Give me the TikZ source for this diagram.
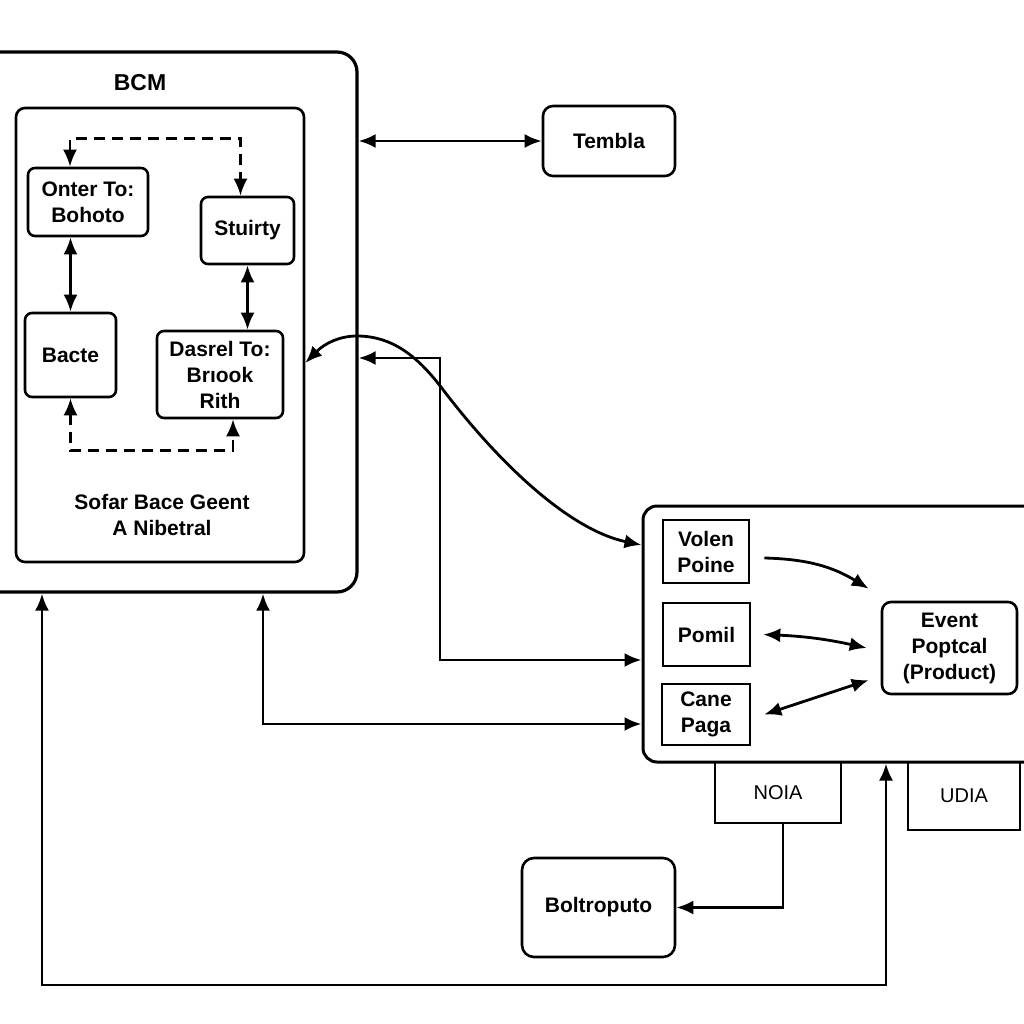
\documentclass[tikz,border=0pt]{standalone}
\usepackage{fontspec}
\setmainfont{Liberation Sans}
\usetikzlibrary{arrows.meta}

\tikzset{
  box/.style={draw, line width=2.6pt, rounded corners=7pt, inner sep=0pt, align=center, font=\bfseries\fontsize{21}{26}\selectfont},
  sqbox/.style={box, rounded corners=0pt},
  plainbox/.style={sqbox, line width=2.3pt, font=\fontsize{20}{24}\selectfont},
  frame/.style={draw, line width=3.2pt, rounded corners=20pt, inner sep=0pt},
  arr/.style={line width=2.8pt, -{Latex[length=17pt,width=14pt]}},
  darr/.style={line width=2.8pt, {Latex[length=17pt,width=14pt]}-{Latex[length=17pt,width=14pt]}},
  dashline/.style={line width=2.5pt, dash pattern=on 11pt off 7pt}
}

\begin{document}
\begin{tikzpicture}[x=1pt, y=-1pt]
  \useasboundingbox (0,0) rectangle (1024,1024);
  \clip (0,0) rectangle (1024,1024);

  %%%%% BCM %%%%%
  \node[frame, minimum width=377pt, minimum height=540pt] (bcm) at (168.5,322) {};
  \node[frame, line width=2.6pt, rounded corners=9pt, minimum width=288pt, minimum height=454pt] (inner) at (160,335) {};
  \node[font=\bfseries\fontsize{23}{26}\selectfont] (bcmlabel) at (140,83) {BCM};

  \node[box, minimum width=120pt, minimum height=68pt] (onter) at (88,202) {Onter To:\\Bohoto};
  \node[box, minimum width=93pt, minimum height=67pt] (stuirty) at (247.5,230.5) {Stuirty};
  \node[box, minimum width=91pt, minimum height=84pt] (bacte) at (70.5,355) {Bacte};
  \node[box, minimum width=126pt, minimum height=87pt] (dasrel) at (220,374.5) {Dasrel To:\\Brıook\\Rith};
  \node[align=center, font=\bfseries\fontsize{21}{26}\selectfont] (sofar) at (162,515) {Sofar Bace Geent\\A Nibetral};

  \draw[darr] (bacte.north) -- (bacte.north |- onter.south);
  \draw[darr] (stuirty.south) -- (stuirty.south |- dasrel.north);
  \draw[darr, dashline] ([xshift=-18pt]onter.north) -- ++(0,-28) -| ([xshift=-7pt]stuirty.north);
  \draw[darr, dashline] (bacte.south) -- ++(0,52) -| ([xshift=13pt]dasrel.south);

  %%%%% RIGHT SIDE %%%%%
  \node[box, rounded corners=10pt, minimum width=132pt, minimum height=70pt] (tembla) at (609,141) {Tembla};

  \node[frame, line width=3pt, rounded corners=14pt, minimum width=397pt, minimum height=256pt] (prod) at (841.5,634) {};
  \node[sqbox, minimum width=86pt, minimum height=63pt] (volen) at (706,551.5) {Volen\\Poine};
  \node[sqbox, minimum width=87pt, minimum height=63pt] (pomil) at (706.5,634.5) {Pomil};
  \node[sqbox, minimum width=88pt, minimum height=61pt] (cane) at (706,714.5) {Cane\\Paga};
  \node[box, rounded corners=9pt, minimum width=135pt, minimum height=92pt] (event) at (949.5,648) {Event\\Poptcal\\(Product)};

  \node[plainbox, minimum width=126pt, minimum height=61pt] (noia) at (778,792.5) {NOIA};
  \node[plainbox, minimum width=112pt, minimum height=68pt] (udia) at (964,796) {UDIA};
  \node[box, rounded corners=12pt, minimum width=153pt, minimum height=99pt] (bolt) at (598.5,907.5) {Boltroputo};

  \draw[arr] ([shift={(14pt,-6.5pt)}]volen.east) to[bend left=15] ([shift={(-12pt,12pt)}]event.north west);
  \draw[darr] ([xshift=12pt]pomil.east) to[bend left=5] ([xshift=-14pt]event.west);
  \draw[darr] ([xshift=13pt]cane.east) -- ([shift={(-12pt,-32pt)}]event.west);

  %%%%% CONNECTIONS %%%%%
  \draw[darr] (bcm.east |- tembla.west) -- (tembla.west);
  \draw[darr] (inner.east |- 0,363) .. controls (325,343) and (340,336) .. (357,336)
    .. controls (395,336) and (420,360) .. (441,387)
    .. controls (500,465) and (570,530) .. (prod.west |- 0,545);
  \draw[darr] (bcm.east |- 0,358) -- (440,358) |- (prod.west |- 0,660);
  \draw[darr] (bcm.south -| 263,0) |- (prod.west |- 0,724);
  \draw[darr] (bcm.south -| 42,0) -- (42,985) -| (prod.south -| 886,0);
  \draw[arr] (noia.south -| 783,0) |- (bolt.east);
\end{tikzpicture}
\end{document}
